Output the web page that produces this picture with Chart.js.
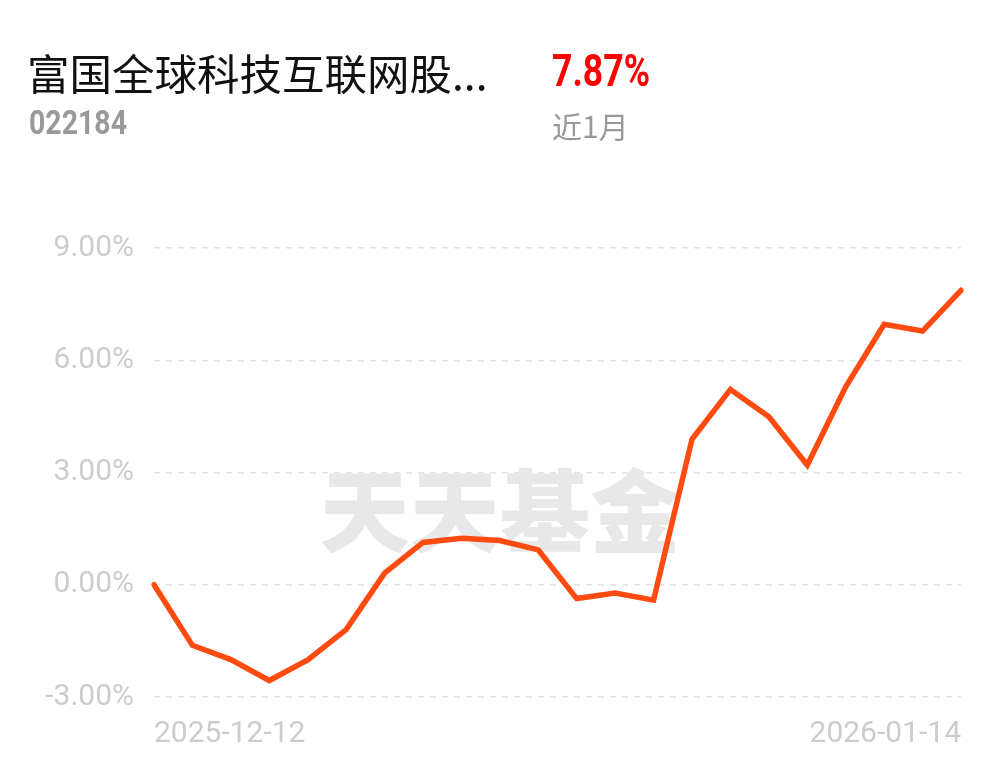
<!DOCTYPE html>
<html>
<head>
<meta charset="utf-8">
<script src="https://cdn.jsdelivr.net/npm/chart.js@4.4.1/dist/chart.umd.min.js"></script>
<style>
  html, body { margin: 0; padding: 0; background: #fff; }
  #wrap { position: relative; width: 1001px; height: 766px; }
  canvas { display: block; }
</style>
</head>
<body>
<div id="wrap"><canvas id="c" width="1001" height="766"></canvas></div>
<script>
// ---- data ----
const fundName = "富国全球科技互联网股...";
const fundCode = "022184";
const periodReturn = "7.87%";
const periodLabel = "近1月";
const watermark = "天天基金";

const dates = [
  "2025-12-12","2025-12-15","2025-12-16","2025-12-17","2025-12-18","2025-12-19",
  "2025-12-22","2025-12-23","2025-12-24","2025-12-25","2025-12-26",
  "2025-12-29","2025-12-30","2025-12-31",
  "2026-01-05","2026-01-06","2026-01-07","2026-01-08","2026-01-09",
  "2026-01-12","2026-01-13","2026-01-14"
];
const returns = [
  0.00, -1.62, -2.00, -2.56, -2.01, -1.20,
  0.31, 1.13, 1.24, 1.18, 0.93,
  -0.37, -0.22, -0.41,
  3.89, 5.22, 4.49, 3.20, 5.29,
  6.96, 6.78, 7.87
];
const yTicks = [-3, 0, 3, 6, 9];

// ---- plugins ----
const decorPlugin = {
  id: 'decor',
  beforeDatasetsDraw(chart) {
    const ctx = chart.ctx;
    ctx.save();
    ctx.fillStyle = '#e8e8e8';
    ctx.font = '900 90px "Noto Sans CJK SC"';
    ctx.textAlign = 'center';
    ctx.textBaseline = 'middle';
    ctx.fillText(watermark, 500, 511, 366);
    ctx.restore();
  },
  afterDraw(chart) {
    const ctx = chart.ctx;
    ctx.save();
    ctx.textBaseline = 'middle';
    ctx.textAlign = 'left';
    ctx.fillStyle = '#111111';
    ctx.font = '400 42.5px "Noto Sans CJK SC"';
    ctx.fillText(fundName, 27, 74);

    ctx.fillStyle = '#ff0000';
    ctx.font = 'bold 45px Roboto, "Liberation Sans", sans-serif';
    ctx.fillText(periodReturn, 552, 75, 98);

    ctx.fillStyle = '#999999';
    ctx.font = 'bold 33px Roboto, "Liberation Sans", sans-serif';
    ctx.fillText(fundCode, 29, 126, 98);

    ctx.font = '400 30px "Noto Sans CJK SC"';
    ctx.fillText(periodLabel, 552, 127);
    ctx.restore();
  }
};

const ctx = document.getElementById('c').getContext('2d');
new Chart(ctx, {
  type: 'line',
  data: {
    labels: dates,
    datasets: [{
      data: returns,
      borderColor: '#ff4b0f',
      borderWidth: 5.5,
      pointRadius: 0,
      pointHoverRadius: 0,
      tension: 0,
      fill: false,
      borderCapStyle: 'round',
      borderJoinStyle: 'miter'
    }]
  },
  options: {
    responsive: false,
    animation: false,
    events: [],
    layout: { padding: { top: 248, right: 40, left: 0, bottom: 0 } },
    plugins: { legend: { display: false }, tooltip: { enabled: false } },
    scales: {
      x: {
        type: 'category',
        offset: false,
        grid: { display: false, drawTicks: false },
        border: { display: false },
        afterFit(scale) { scale.height = 69; },
        ticks: {
          autoSkip: false,
          maxRotation: 0,
          minRotation: 0,
          align: 'inner',
          padding: 19,
          color: '#cccccc',
          font: { family: 'Roboto', size: 30 },
          callback(v, i) {
            return (i === 0 || i === dates.length - 1) ? dates[i] : '';
          }
        }
      },
      y: {
        min: yTicks[0],
        max: yTicks[yTicks.length - 1],
        afterBuildTicks(scale) { scale.ticks = yTicks.map(v => ({ value: v })); },
        afterFit(scale) { scale.width = 154; },
        grid: {
          color: '#e2e2e2',
          lineWidth: 1.5,
          drawTicks: false
        },
        border: { display: false, dash: [6, 6] },
        ticks: {
          padding: 20,
          color: '#cccccc',
          font: { family: 'Roboto', size: 30 },
          callback(v) { return v.toFixed(2) + '%'; }
        }
      }
    }
  },
  plugins: [decorPlugin]
});
</script>
</body>
</html>
